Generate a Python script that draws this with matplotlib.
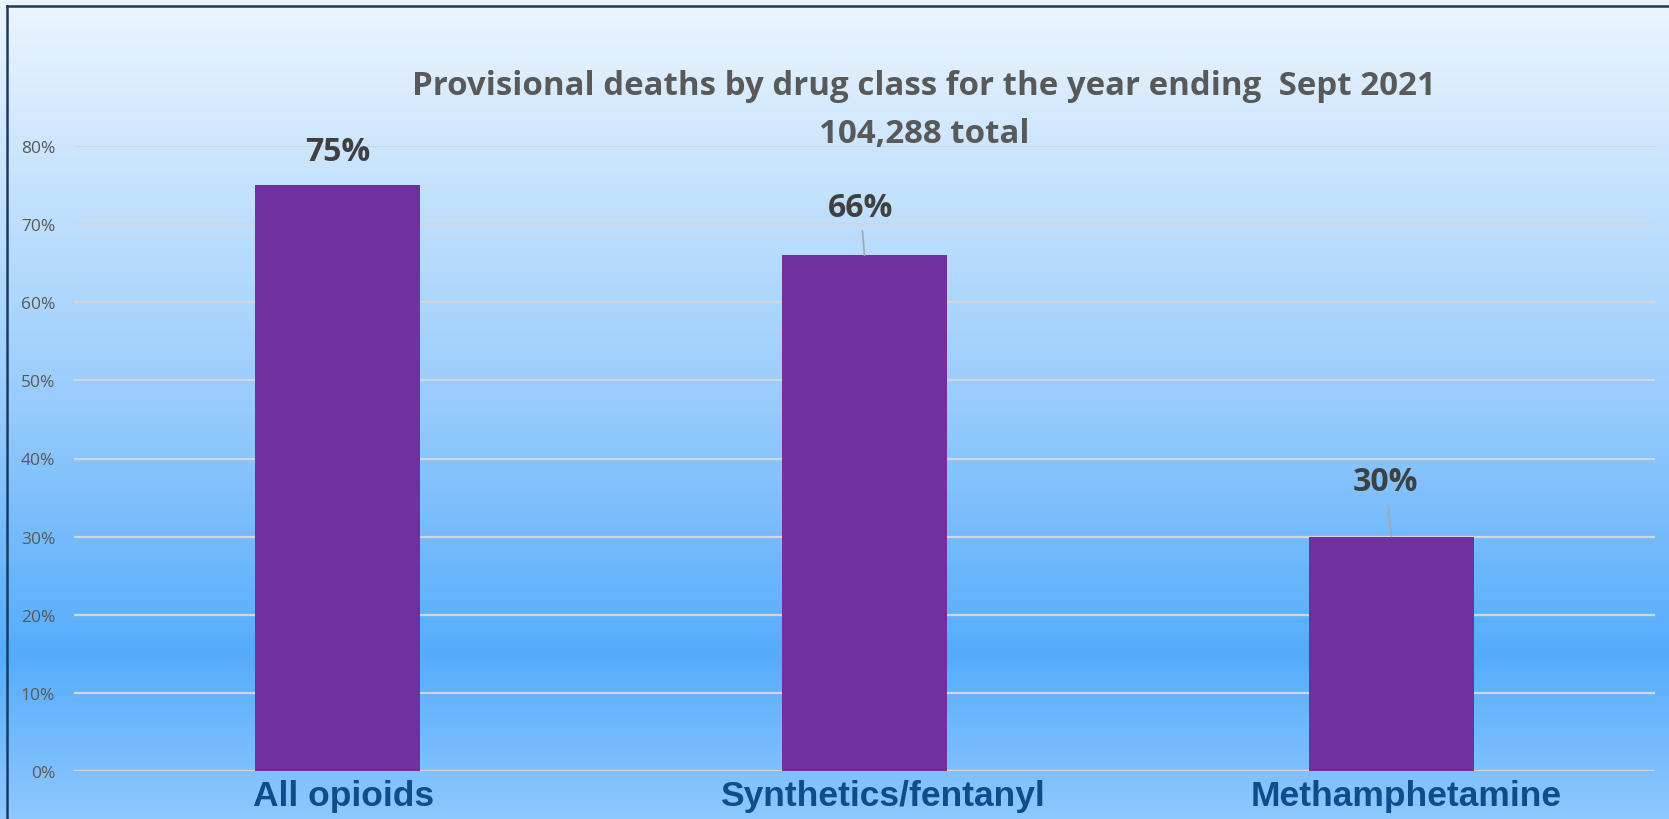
import matplotlib
matplotlib.use("Agg")
import matplotlib.pyplot as plt
import matplotlib.transforms as mtransforms
import numpy as np
from matplotlib.colors import LinearSegmentedColormap
from matplotlib.lines import Line2D

# Dados
categorias = ["All opioids", "Synthetics/fentanyl", "Methamphetamine"]
percentuais = [0.75, 0.66, 0.30]
rotulos = ["75%", "66%", "30%"]
yticks = [0.0, 0.1, 0.2, 0.3, 0.4, 0.5, 0.6, 0.7, 0.8]
titulo1 = "Provisional deaths by drug class for the year ending  Sept 2021"
titulo2 = "104,288 total"

# deslocamento dos rótulos (pixels) acima da barra: (dx, dy)
desloc = [(0, 34), (-4, 48), (-6, 55)]
# deslocamento horizontal dos nomes das categorias (pixels)
desloc_cat = [6, 18, 15]

W, H = 1669, 820
fig = plt.figure(figsize=(W / 100, H / 100), dpi=100)

# Fundo em gradiente
bg = fig.add_axes([0, 0, 1, 1], zorder=-10)
cmap = LinearSegmentedColormap.from_list(
    "fundo",
    [(0.0, "#ECF5FE"), (0.18, "#CDE6FD"), (0.5, "#96CBFC"),
     (0.8, "#55ACFB"), (1.0, "#8EC8FE")])
grad = np.linspace(0, 1, 256).reshape(-1, 1)
bg.imshow(grad, aspect="auto", cmap=cmap, extent=[0, 1, 0, 1], origin="upper")
bg.set_axis_off()

# Borda
fig.add_artist(Line2D([7 / W, 1], [1 - 7 / H, 1 - 7 / H], color="#1E3A5F", lw=1.8))
fig.add_artist(Line2D([7 / W, 7 / W], [0, 1 - 7 / H], color="#1E3A5F", lw=1.8))

ax = fig.add_axes([74 / W, 1 - 772 / H, (1655 - 74) / W, (772 - 147) / H])
ax.set_facecolor("none")

x = np.arange(len(categorias))
ax.bar(x, percentuais, width=0.313, color="#7030A0", zorder=3)

ax.set_xlim(-0.5, 2.5)
ax.set_ylim(0, 0.8)
ax.set_yticks(yticks)
ax.set_yticklabels([f"{int(round(v * 100))}%" for v in yticks],
                   fontfamily="Open Sans", fontsize=12.5, color="#595959")
ax.yaxis.grid(True, color="#D2D6DB", lw=1.6, zorder=1)
ax.set_axisbelow(True)
ax.tick_params(axis="y", length=0, pad=13.5)
ax.tick_params(axis="x", length=0, pad=6)
ax.set_xticks(x)
ax.set_xticklabels(categorias, fontfamily="Liberation Sans", fontweight="bold",
                   fontsize=25.5, color="#0E4C8C")
for lbl, d in zip(ax.get_xticklabels(), desloc_cat):
    lbl.set_transform(lbl.get_transform() +
                      mtransforms.ScaledTranslation(d / 100, 0, fig.dpi_scale_trans))
for s in ax.spines.values():
    s.set_visible(False)

for xi, v, r, (dx, dy) in zip(x, percentuais, rotulos, desloc):
    seta = None
    if dy > 40:
        seta = dict(arrowstyle="-", color="#A6A6A6", lw=1.2,
                    shrinkA=3, shrinkB=0)
    ax.annotate(r, xy=(xi, v), xytext=(dx, dy), textcoords="offset pixels",
                ha="center", va="center", fontfamily="Open Sans", fontweight="bold",
                fontsize=23, color="#404040", arrowprops=seta, zorder=5)

fig.text(924 / W, 1 - 95 / H, titulo1, ha="center", va="baseline",
         fontfamily="Open Sans", fontweight="bold", fontsize=23.8, color="#595959")
fig.text(924 / W, 1 - 143 / H, titulo2, ha="center", va="baseline",
         fontfamily="Open Sans", fontweight="bold", fontsize=23.8, color="#595959")

fig.savefig("out.png", dpi=100)
